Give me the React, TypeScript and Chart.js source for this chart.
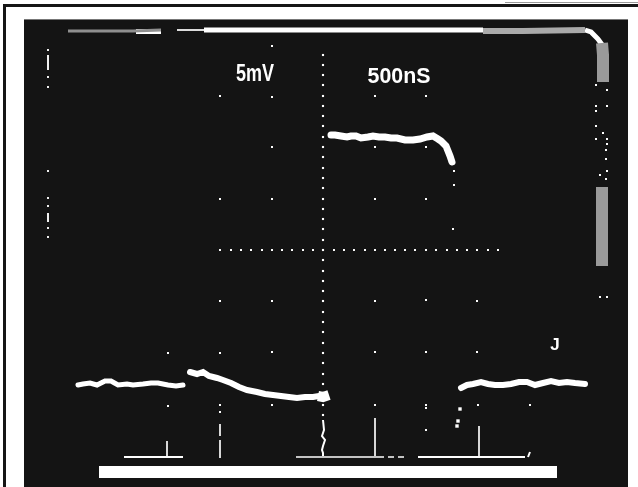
import React, { useEffect, useRef } from "react";
import { Chart, registerables } from "chart.js";

Chart.register(...registerables);

// All values are read off the photograph, in trace units relative to the screen centre
// (about 51.5 units per graticule division: 5 mV vertically, 500 ns horizontally).
const labelVolts = "5mV";
const labelTime = "500nS";
const labelMark = "J";

const pulseX = [8, 12, 18, 24, 28, 33, 38, 45, 50, 56, 62, 68, 74, 82, 90, 97, 104, 110, 115, 118, 123, 127, 129];
const pulseY = [115, 115, 114, 113, 114, 114, 112, 113, 114, 113, 113, 112, 112, 110, 110, 111, 113, 114, 111, 109, 104, 94, 88];

const baseLeftX = [-245, -240, -233, -226, -218, -212, -205, -196, -190, -180, -172, -165, -155, -147, -140];
const baseLeftY = [-135, -134, -133, -135, -131, -131, -135, -134, -135, -134, -133, -133, -135, -136, -135];

const droopX = [-133, -126, -120, -114, -106, -100, -92, -84, -76, -66, -58, -50, -42, -34, -26, -18, -10, -4, 2];
const droopY = [-122, -124, -122, -126, -128, -130, -133, -137, -140, -142, -144, -145, -146, -147, -148, -147, -147, -146, -146];

const blobX = [-5, 0, 6];
const blobY = [-146, -147, -145];

const baseRightX = [138, 144, 150, 158, 165, 172, 180, 188, 196, 204, 212, 220, 228, 236, 244, 252, 262];
const baseRightY = [-138, -135, -134, -132, -134, -135, -135, -134, -132, -132, -135, -133, -131, -133, -132, -133, -134];

const stemsX = [-156, -156, NaN, -103, -103, NaN, -103, -103, NaN, 52, 52, NaN, 156, 156];
const stemsY = [-191, -208, NaN, -174, -186, NaN, -190, -208, NaN, -168, -207, NaN, -176, -207];

const dashBrightX = [-199, -140, NaN, 95, 202, NaN, 205, 207];
const dashBrightY = [-207, -207, NaN, -207, -207, NaN, -207, -202];

const dashDimX = [-27, 61, NaN, 65, 71, NaN, 75, 81];
const dashDimY = [-207, -207, NaN, -207, -207, NaN, -207, -207];

const jitterX = [0, 1, -1, 2, 0, -1, 0, 0];
const jitterY = [-170, -180, -186, -190, -196, -200, -203, -208];

const bottomBarX = [-224, 234];
const bottomBarY = [-222, -222];

const beamDimX = [-255, -240, -190, -162];
const beamDimY = [219, 219, 219, 220];

const beamThinX = [-146, -119];
const beamThinY = [220, 220];

const beamBrightX = [-187, -162, NaN, -119, 160];
const beamBrightY = [218.5, 218.5, NaN, 220, 220];

const beamFadeX = [160, 200, 262];
const beamFadeY = [219, 219, 220];

const cornerX = [262, 268, 275, 280];
const cornerY = [220, 218, 211, 204];

const columnDimX = [279, 280, 280, NaN, 279, 279];
const columnDimY = [207, 195, 168, NaN, 63, -16];

const leftSegmentsX = [-275, -275, NaN, -275, -275];
const leftSegmentsY = [195, 180, NaN, 37, 28];

const centreColumnY = [195, 185, 175, 165, 154, 144, 134, 124, 113, 103, 93, 82, 72, 62, 51, 41, 31, 21, 10, 0, -10, -21, -31, -41, -51, -62, -72, -82, -93, -103, -113, -124, -134, -144, -155, -165];
const centreRowX = [-103, -92, -82, -72, -61, -51, -41, -31, -20, -10, 11, 21, 31, 42, 52, 62, 72, 82, 92, 103, 113, 124, 134, 144, 154, 165, 175];

const gridDotX = [-51, -103, -51, -103, -51, -103, -51, 52, 103, 52, 103, 52, 103, -103, -51, 52, 103, 154, -155, -103, -51, 52, 103, 154, -155, -103, -51, 52, 103, 155, 207, -51, -103, 103, 103, 137, 131, 131, 130];
const gridDotY = [204, 154, 103, 51, 51, -51, -51, 154, 154, 103, 103, 51, 51, -51, -51, -51, -50, -51, -103, -103, -102, -102, -102, -102, -156, -155, -155, -155, -155, -155, -155, 153, -162, -158, -180, -159, 79, 65, 21];

const leftEdgeX = [-275, -275, -275, -275, -275, -275, -275, -275];
const leftEdgeY = [200, 173, 163, 79, 52, 44, 22, 13];

const rightSpecksX = [273, 284, 273, 284, 273, 273, 280, 273, 284, 284, 283, 283, 277, 284, 283, 277, 284];
const rightSpecksY = [165, 160, 144, 144, 139, 124, 117, 111, 111, 106, 100, 91, 75, 79, 71, -47, -47];

const blobDotX = [137, 135, 134];
const blobDotY = [-159, -171, -176];

const toPts = (xs: number[], ys: number[]) => xs.map((x, i) => ({ x, y: ys[i] }));

const line = (xs: number[], ys: number[], color: string, width: number, cap = "butt") => ({
  data: toPts(xs, ys),
  showLine: true,
  spanGaps: false,
  borderColor: color,
  backgroundColor: color,
  borderWidth: width,
  borderCapStyle: cap,
  pointRadius: 0,
});

const dots = (xs: number[], ys: number[], color: string, radius: number) => ({
  data: toPts(xs, ys),
  showLine: false,
  pointStyle: "rect",
  borderWidth: 0,
  backgroundColor: color,
  pointRadius: radius,
});

const textPlugin = {
  id: "scopeText",
  afterDatasetsDraw(chart: any) {
    const { ctx, scales } = chart;
    const put = (s: string, x: number, y: number, font: string, maxWidth: number) => {
      ctx.save();
      ctx.fillStyle = "#ffffff";
      ctx.font = font;
      ctx.textAlign = "center";
      ctx.textBaseline = "middle";
      ctx.fillText(s, scales.x.getPixelForValue(x), scales.y.getPixelForValue(y), maxWidth);
      ctx.restore();
    };
    put(labelVolts, -68, 175, "bold 23px 'Liberation Sans'", 38);
    put(labelTime, 76, 173, "bold 22px 'Liberation Sans'", 63);
    put(labelMark, 232, -95, "bold 17px 'Liberation Sans'", 10);
  },
};

export default function App() {
  const ref = useRef<HTMLCanvasElement>(null);

  useEffect(() => {
    const chart = new Chart(ref.current!, {
      type: "scatter",
      data: {
        datasets: [
          line(columnDimX, columnDimY, "#9a9a9a", 12),
          line(beamDimX, beamDimY, "#8f8f8f", 3),
          line(beamThinX, beamThinY, "#dddddd", 2),
          line(beamFadeX, beamFadeY, "#aaaaaa", 6),
          line(beamBrightX, beamBrightY, "#ffffff", 5),
          line(cornerX, cornerY, "#ffffff", 5),
          line(bottomBarX, bottomBarY, "#ffffff", 12),
          line(dashDimX, dashDimY, "#c4c4c4", 2),
          line(dashBrightX, dashBrightY, "#ffffff", 2),
          line(stemsX, stemsY, "#d8d8d8", 2),
          line(jitterX, jitterY, "#ffffff", 2),
          line(leftSegmentsX, leftSegmentsY, "#f0f0f0", 2),
          dots(centreColumnY.map(() => 0), centreColumnY, "#ffffff", 1.5),
          dots(centreRowX, centreRowX.map(() => 0), "#ffffff", 1.4),
          dots(gridDotX, gridDotY, "#ffffff", 1.4),
          dots(leftEdgeX, leftEdgeY, "#f0f0f0", 1.4),
          dots(rightSpecksX, rightSpecksY, "#ffffff", 1.4),
          dots(blobDotX, blobDotY, "#ffffff", 2.4),
          line(pulseX, pulseY, "#ffffff", 7, "round"),
          line(baseLeftX, baseLeftY, "#ffffff", 5, "round"),
          line(droopX, droopY, "#ffffff", 6, "round"),
          line(blobX, blobY, "#ffffff", 10),
          line(baseRightX, baseRightY, "#ffffff", 6, "round"),
        ] as any,
      },
      options: {
        animation: false,
        responsive: false,
        devicePixelRatio: 1,
        layout: { padding: 0, autoPadding: false },
        plugins: { legend: { display: false }, tooltip: { enabled: false }, title: { display: false } },
        scales: {
          x: { type: "linear", display: false, min: -299, max: 305 },
          y: { type: "linear", display: false, min: -237, max: 230 },
        },
      },
      plugins: [textPlugin],
    });
    return () => chart.destroy();
  }, []);

  return (
    <div style={{ position: "fixed", left: 0, top: 0, width: 638, height: 487, background: "#fff", overflow: "hidden" }}>
      <div style={{ position: "absolute", left: 3, top: 4, width: 635, height: 3, background: "#161616" }} />
      <div style={{ position: "absolute", left: 505, top: 2, width: 133, height: 1, background: "#999" }} />
      <div style={{ position: "absolute", left: 3, top: 4, width: 3, height: 483, background: "#161616" }} />
      <div style={{ position: "absolute", left: 24, top: 19, width: 604, height: 1, background: "#777" }} />
      <canvas
        ref={ref}
        width={604}
        height={467}
        style={{ position: "absolute", left: 24, top: 20, width: 604, height: 467, background: "#141414", display: "block" }}
      />
    </div>
  );
}
